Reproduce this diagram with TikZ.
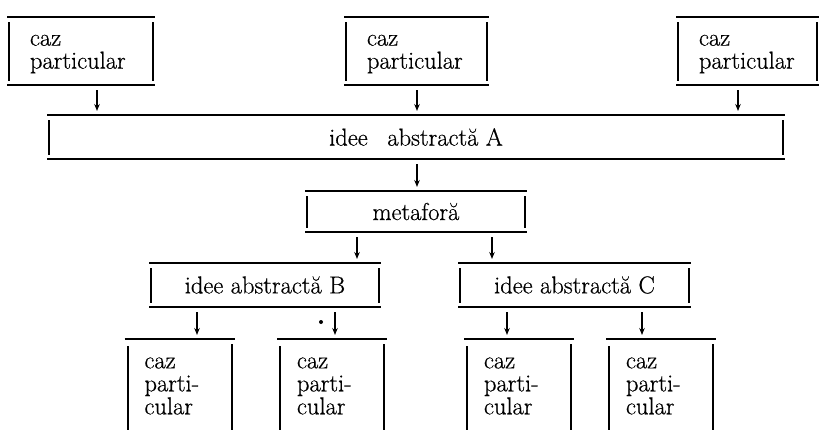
\documentclass[tikz,border=0pt]{standalone}
\usepackage{fontspec}
\setmainfont{Latin Modern Roman}[FakeBold=0.6]
\usetikzlibrary{arrows.meta}
\begin{document}
\begin{tikzpicture}[x=1pt,y=-1pt,
  font=\fontsize{24.5}{23}\selectfont,
  bx/.style={inner sep=0pt, outer sep=0pt, draw=none},
  lbx/.style={bx, align=left, inner ysep=0pt},
  hl/.style={line width=2.3pt},
  vl/.style={line width=2pt},
  arr/.style={line width=1.5pt, -{Stealth[length=7pt,width=5.5pt]}, shorten <=5pt, shorten >=4pt}]
\useasboundingbox (0,0) rectangle (819,429);
% top row
\node[lbx, text width=102pt, inner xsep=22pt, minimum height=68pt] (tl) at (81,51) {\rule{0pt}{17pt}caz\\particular};
\node[lbx, text width=99pt, inner xsep=22pt, minimum height=68pt] (tm) at (416.5,51) {\rule{0pt}{17pt}caz\\particular};
\node[lbx, text width=97pt, inner xsep=22pt, minimum height=68pt] (tr) at (747.5,51) {\rule{0pt}{17pt}caz\\particular};
% abstract idea A
\node[bx, minimum width=736pt, minimum height=44pt] (A) at (416,137) {idee\enspace\ abstractă A};
% metaphor
\node[bx, minimum width=220pt, minimum height=41pt] (M) at (416,211.5) {metaforă};
% B and C
\node[bx, minimum width=230pt, minimum height=44pt] (B) at (265,285) {idee abstractă B};
\node[bx, minimum width=231pt, minimum height=44pt] (C) at (574.5,285) {idee abstractă C};
% bottom row
\node[lbx, text width=70pt, inner xsep=19pt, minimum height=94pt] (B1) at (179.5,386) {caz\\parti-\\cular};
\node[lbx, text width=70pt, inner xsep=19pt, minimum height=94pt] (B2) at (332,386) {caz\\parti-\\cular};
\node[lbx, text width=70pt, inner xsep=19pt, minimum height=94pt] (C1) at (519,386) {caz\\parti-\\cular};
\node[lbx, text width=70pt, inner xsep=19pt, minimum height=94pt] (C2) at (661,386) {caz\\parti-\\cular};
% closed frames
\foreach \n in {tl,tm,tr,A,M,B,C} {
  \draw[hl] ([xshift=-1pt]\n.north west) -- ([xshift=1pt]\n.north east);
  \draw[hl] ([xshift=-1pt]\n.south west) -- ([xshift=1pt]\n.south east);
  \draw[vl] ([xshift=1pt,yshift=-5pt]\n.north west) -- ([xshift=1pt,yshift=4pt]\n.south west);
  \draw[vl] ([xshift=-1pt,yshift=-5pt]\n.north east) -- ([xshift=-1pt,yshift=4pt]\n.south east);
}
% open frames
\foreach \n in {B1,B2,C1,C2} {
  \draw[hl] ([xshift=-1pt]\n.north west) -- ([xshift=1pt]\n.north east);
  \draw[vl] ([xshift=2pt,yshift=-7pt]\n.north west) -- ([xshift=2pt]\n.south west);
  \draw[vl] ([xshift=-2pt,yshift=-5pt]\n.north east) -- ([xshift=-2pt]\n.south east);
}
% connectors
\draw[arr] (tl.south -| 97,0) -- (A.north -| 97,0);
\draw[arr] (tm.south -| 417,0) -- (A.north -| 417,0);
\draw[arr] (tr.south -| 738,0) -- (A.north -| 738,0);
\draw[arr] (A.south -| 417,0) -- (M.north -| 417,0);
\draw[arr] (M.south -| 357,0) -- (B.north -| 357,0);
\draw[arr] (M.south -| 492,0) -- (C.north -| 492,0);
\draw[arr] (B.south -| 197,0) -- (B1.north -| 197,0);
\draw[arr] (B.south -| 335,0) -- (B2.north -| 335,0);
\draw[arr] (C.south -| 507,0) -- (C1.north -| 507,0);
\draw[arr] (C.south -| 642,0) -- (C2.north -| 642,0);
\fill (321,322) circle (2pt);
\end{tikzpicture}
\end{document}
